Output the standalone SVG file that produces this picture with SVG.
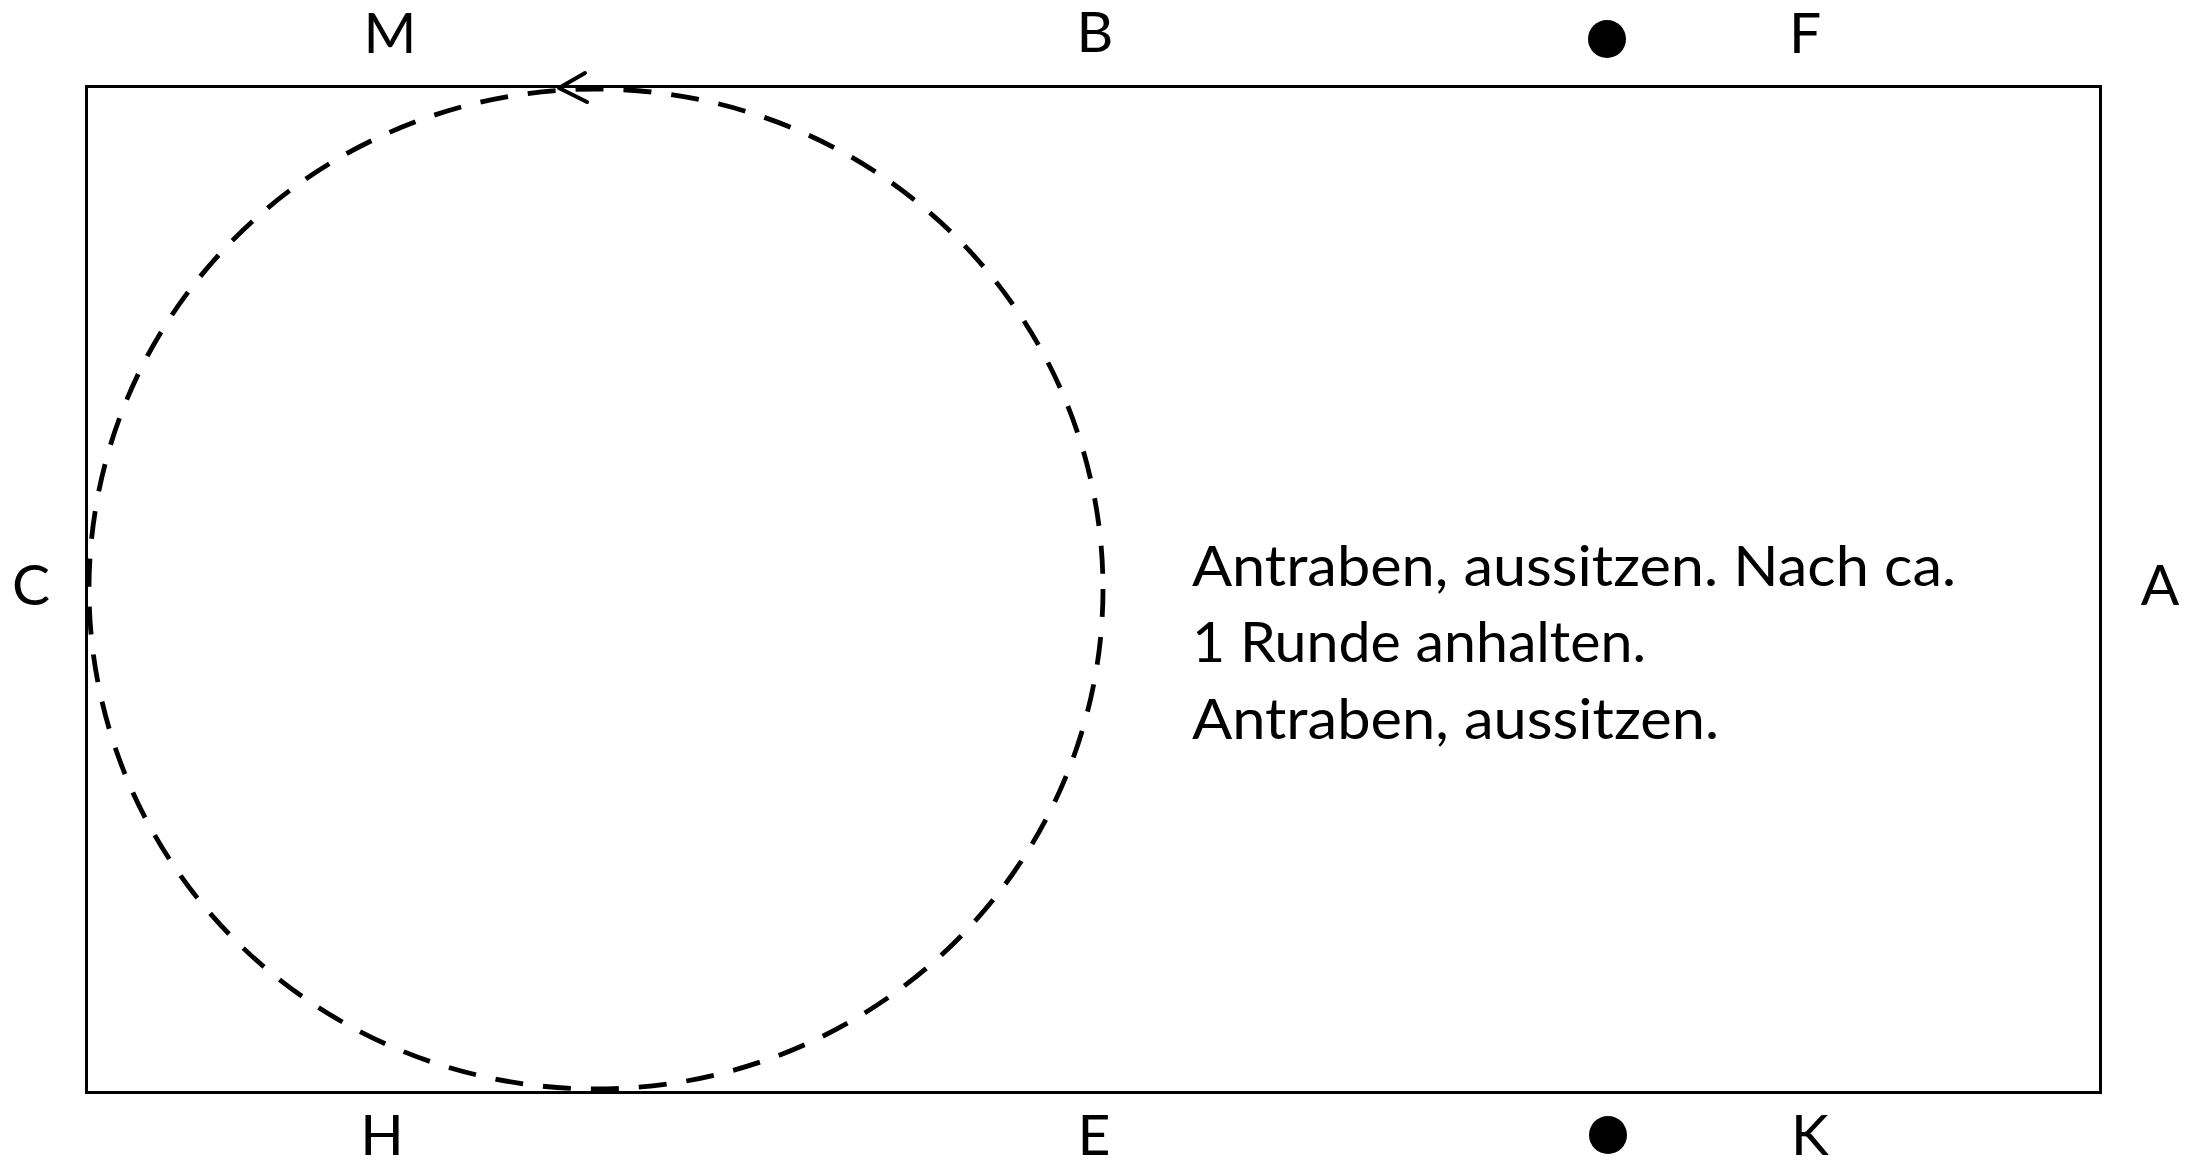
<svg xmlns="http://www.w3.org/2000/svg" width="2206" height="1160" viewBox="0 0 2206 1160">
<style>
.lbl{font-family:Lato,"Carlito","Liberation Sans",sans-serif;font-size:57px;fill:#000;text-anchor:middle}
.txt{font-family:Lato,"Carlito","Liberation Sans",sans-serif;font-size:57px;fill:#000}
.arena{fill:none;stroke:#000;stroke-width:3}
.path{fill:none;stroke:#000;stroke-width:4.8;stroke-dasharray:28 20}
.arrow{fill:none;stroke:#000;stroke-width:4;stroke-linecap:round;stroke-linejoin:round}
.dot{fill:#000}
</style>
<rect width="2206" height="1160" fill="#fff"/>
<g id="arena"><rect class="arena" x="86.5" y="86.5" width="2014" height="1006"/></g>
<g id="connectors">
<ellipse class="path" cx="596" cy="589" rx="507" ry="500"/>
<path class="arrow" d="M585,73 L559,88 L587,102"/>
</g>
<g id="label-M"><text class="lbl" x="390" y="53">M</text></g>
<g id="label-B"><text class="lbl" x="1095" y="52">B</text></g>
<g id="dot-F"><circle class="dot" cx="1607" cy="39" r="19"/></g>
<g id="label-F"><text class="lbl" x="1805" y="53">F</text></g>
<g id="label-C"><text class="lbl" x="31" y="605">C</text></g>
<g id="label-A"><text class="lbl" x="2160" y="605">A</text></g>
<g id="label-H"><text class="lbl" x="382" y="1155">H</text></g>
<g id="label-E"><text class="lbl" x="1094" y="1155">E</text></g>
<g id="dot-K"><circle class="dot" cx="1608" cy="1135" r="19"/></g>
<g id="label-K"><text class="lbl" x="1810" y="1155">K</text></g>
<g id="instructions">
<text class="txt" x="1192" y="586" textLength="764" lengthAdjust="spacingAndGlyphs">Antraben, aussitzen. Nach ca.</text>
<text class="txt" x="1192" y="662" textLength="454" lengthAdjust="spacingAndGlyphs">1 Runde anhalten.</text>
<text class="txt" x="1192" y="739" textLength="527" lengthAdjust="spacingAndGlyphs">Antraben, aussitzen.</text>
</g>
</svg>
